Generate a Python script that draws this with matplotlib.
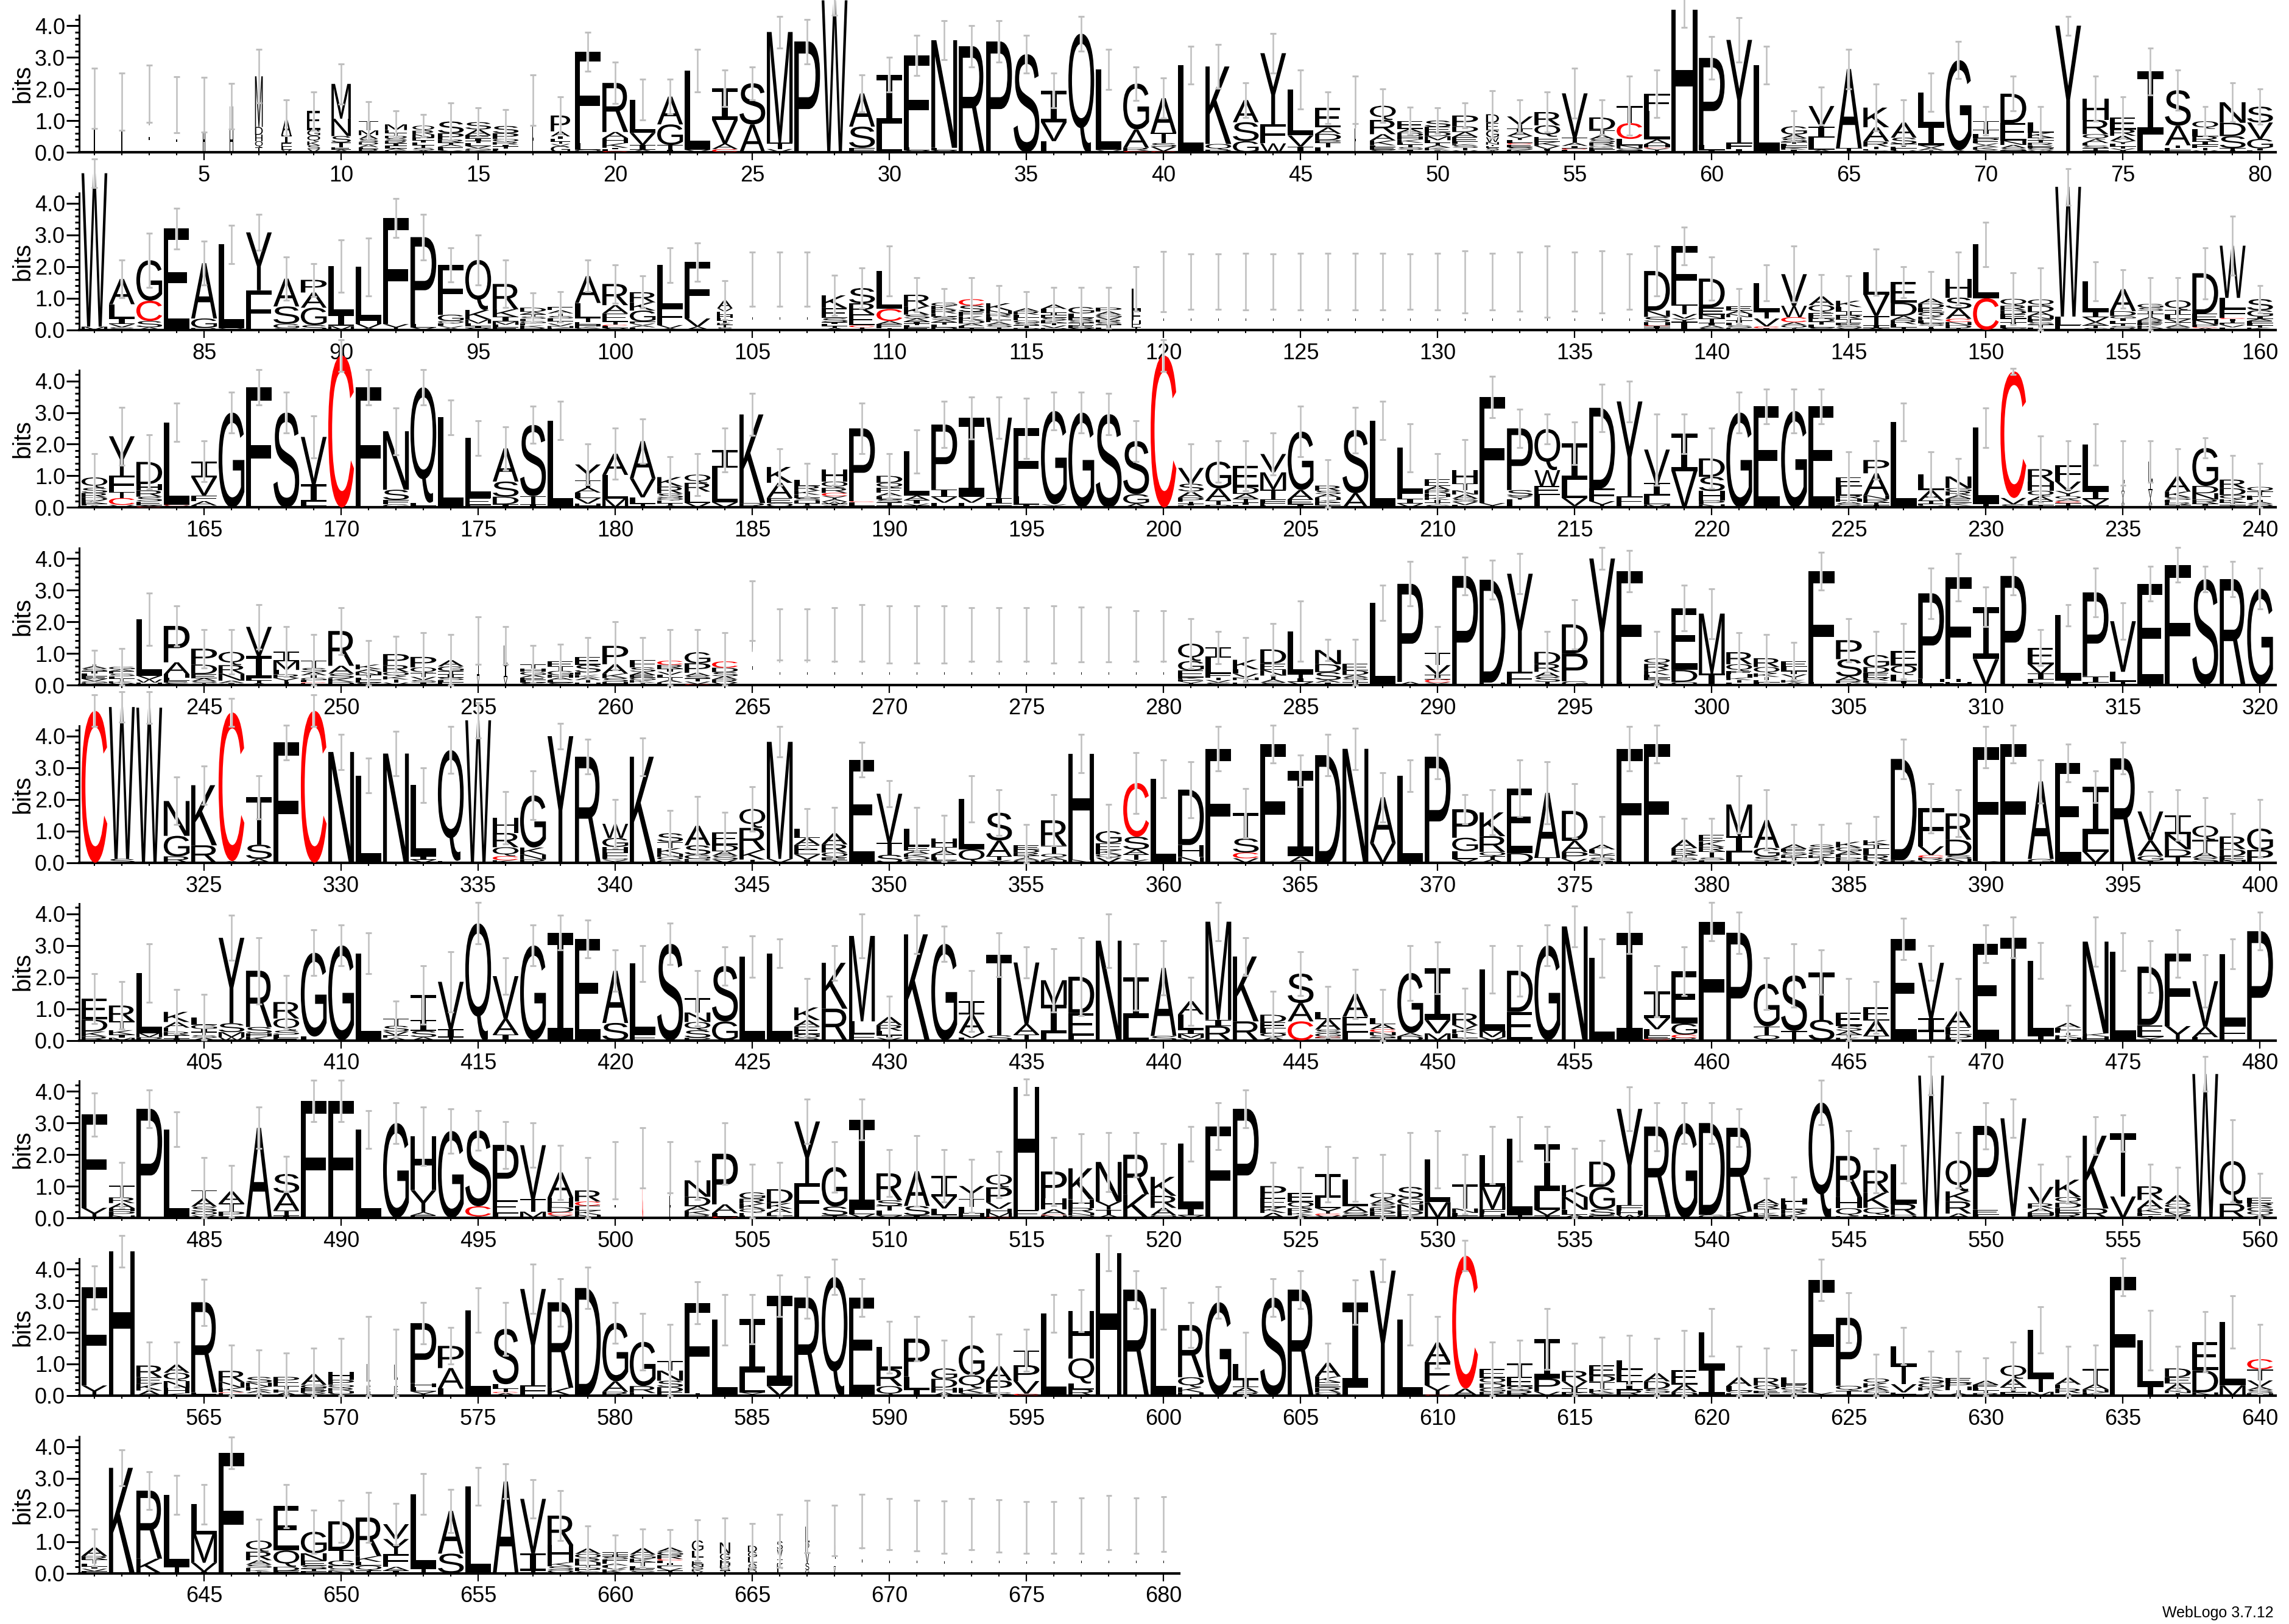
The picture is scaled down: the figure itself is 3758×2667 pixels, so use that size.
import matplotlib
matplotlib.use('Agg')
import matplotlib.pyplot as plt
from matplotlib.font_manager import FontProperties
from matplotlib.patches import PathPatch
from matplotlib.path import Path
from matplotlib.textpath import TextPath
from matplotlib.transforms import Affine2D

plt.rcParams['font.family'] = ['Liberation Sans', 'DejaVu Sans']

# stacks are written top letter first, heights in 1/100 bit
row1 = ["N90 H80", "N80 H80", "N100 H85", "N80 H70", "N80 H70", "N75 H70", "M160 D25 H20 Q20 T15", "A55 I25 E10 L10 V8", "E60 G18 Q18 K12 S12 V10", "M110 N55 S20 T15 E8 A8",
        "T30 M15 A12 S10 D8 A8 L6 R10", "M18 E10 T8 D8 S8 R8 I8 L8 A6 K6", "Q16 R12 N10 E8 I8 L8 T8 S8 A6", "S37 P20 R10 T6 A6 F6 L6 Y6", "S23 A18 E10 I8 T8 L8 V8 G6 K6", "S23 P18 Q10 R8 I6 T6 L6 E6", "N85 H80", "P50 A16 I8 L8 T8 V6 G20", "F290 L20 Q8", "R155 A20 H15 K15 I5 L5 C4",
        "L105 V38 I15 A8", "A88 G65 T15 I8", "L250 V8", "I100 V75 A17 C10", "S130 A88", "M350 T20 V10", "P350", "W480", "A105 S67 F14", "I155 L90",
        "F290 L10 V6", "N340 L8 V6", "R335", "P350", "S310", "I100 V60 L35", "Q375", "L255 V7", "G145 A58 R10 C4", "A110 T32 S12 V14 C3",
        "L275", "K245 Q18 P8", "A70 S60 G35", "Y225 F60 W28", "L145 V35 I18", "E62 A20 D20 P8 T15 L15", "N90 H75", "Q45 R45 A20 K15 L6 E8 S8", "E25 A12 D12 H10 K10 L6 T8 S8 I8", "S20 E16 D13 M13 L8 T8 A8 K8 I6",
        "P34 D18 A16 E16 L6 K4 S8 T8 V6", "D27 E24 G22 W15 N8 T5 L5 S8 A6", "V26 T12 I10 A14 Y12 L10 C5 E8 S8 K8", "R42 Q36 E16 K13 V10 I4 T6", "V140 T16 A10 I8 C4 L8", "D40 T16 A13 S10 R10 Q5 E8 L8", "T55 C50 L20 N10 S7 I5", "F55 L90 A15 H10 C3 Y8 T4", "H450", "P275 L16 I7",
        "Y325 F20 I10", "L275", "G26 A12 S12 T6 L6 E6 K6 I8", "V65 I35 L38 A8", "A250 T13", "K62 A45 R16 T8 E5 S5", "A48 S20 T8 E6 L6 V6", "L105 I62 V8 A8 T6", "G285 A6", "T28 I14 L13 P10 E6 V6 A6 K8 S8",
        "D93 E55 N14 A10 S8 T5", "L32 K16 I8 T8 R8 E8 Q8 V6", "Y400", "H67 R45 Q16 A12 E8 S8 T8 I5", "E38 R20 A16 Y10 L8 T6 V6 I6", "I200 L55", "S112 A62 T8 E8 F6", "Q24 L24 R16 I10 F10 T8 V6", "N65 D42 S38 T7 I6", "S50 V52 G30 I6 L6"]
row2 = ["W485 M10", "A80 L45 I18 V10 S8", "G128 C64 S20 A8", "E320", "A175 G30 R6", "L265 V5", "Y183 F125", "A88 S55 G14 S5", "P40 A48 G55 S15", "L155 I35 M12",
        "L170 H10 V14 A5", "F335 Y18", "P275 L10 V8", "F158 G20 Q8 L8 V6 A6", "Q158 K30 M13 L8 I6 V6", "R80 K24 I15 M10 L8 E8", "D13 A8 T7 S7 L7 G7 F7 K7 R7", "E10 A10 T8 S8 L8 I8 V8 N6 K6", "A85 L48 T12 E8 H6 K6 S5", "R67 A26 E26 T10 C4 L6 V6",
        "R32 K26 G35 F6 V6 A6 L8", "L135 F55 V10 A5", "F178 V26 A10", "A26 V10 E10 H10 L8 I8 K6 T8 S8", "N90 H70", "N90 H70", "N90 H70", "K40 E32 S13 I6 L6 T6 A6", "S48 R35 E35 C6 T4 A4", "L120 C38 A10 F12 T6",
        "R37 K26 S12 A10 I6 T6 L6 E8", "G10 K12 R12 E10 S10 A8 T8 L8 D8", "C20 S20 E14 K13 D10 A8 L6 T6", "K23 N11 R10 L8 E8 A8 S8 T8", "A10 R10 L10 E8 G8 S8 T8 D6", "A14 L12 I8 E8 S8 K8 T8 V8 D6", "G20 L14 R8 S8 T8 E8 V6", "P12 A10 G8 V8 R8 S8 T8 L8", "L70 F30 H12 E10 I8", "N90 H62",
        "N90 H62", "N90 H62", "N90 H62", "N90 H62", "N90 H62", "N90 H62", "N90 H62", "N90 H62", "N90 H62", "N90 H62",
        "N90 H62", "N90 H62", "N90 H62", "N90 H62", "N90 H62", "N90 H62", "N90 H62", "D125 N20 S16 H10 C3 I6 T6", "F185 T30 V14 Y10 I26", "D92 E22 N12 T14 I8 A8 S6",
        "E13 A11 N10 T10 I8 L8 S8 K6", "L90 T22 V25 C6 I5", "V100 W36 C16 A10 Q8 T6", "A28 Q24 E18 D10 T10 L8 S8", "K20 L14 I12 R12 T12 E8 S8 V6", "L70 V68 T30 I8 A6", "E65 D42 A13 R13 L10 T8", "A16 D14 E14 Q13 K11 L10 S8 T8 I5", "H60 S35 A32 C10 N10 D10 T5", "L170 C100",
        "Q22 R14 D13 E13 T12 I10 L8 S6", "Q20 D20 A12 N10 E10 S8 T8 L8", "W410 L28 E14", "L95 I18 V16 A10 T8 S6", "A70 D15 G8 I8 L8 T8 S6 R6", "G12 S10 I10 T10 A10 R8 E8 K8 D6", "Q30 I16 L13 V10 T8 A8 S8", "D128 E20 N14 P8 C3 A6", "W165 L35 F28 C4 I6 T6 E6 V8 L8", "S35 G20 I7 A7 E7 L7 T7 K7"]
row3 = ["Q33 S16 R14 D10 K10 F6 A6", "Y125 F52 T18 C22 V8", "D70 H20 R20 S15 E12 A4 C3", "L260 C3 V6", "I50 V58 F18 A14 L6", "G300", "F380", "S300", "V150 I55 L12 T6", "C480",
        "F380", "N185 S32 F14 G10", "Q365 L10 V5", "L285", "L190 E22 F8", "A105 S48 D24 I10", "S225 T26 I10", "L275", "Y50 T23 A16 L17 V18 H12", "A67 L75 M28",
        "A118 V60 L20 T12", "K30 R22 S14 Q8 E8 T8 A6", "Q26 R28 L35 V15", "I55 L110 V16", "K280 R14", "K50 A48 E16 Q14", "L18 R16 K13 E10 S8 H8 T8 A6", "H38 Q20 R16 C10 Y10 A8 W6 I6 S6", "P230 C3 L12 A5", "D22 Q16 E16 A10 L10 S10 T10 I6",
        "L140 A14 I11 V6 T6", "P205 I24 V18 L15", "I250 V18 L15", "V255 I16 L8 T5", "F215 L25 I5 V5", "G295 V5 A5", "G300", "S295", "S168 G30 A12", "C480",
        "V50 S24 A20 P13 T6 I6 L6", "G85 A38 T14 P8", "E66 D22 A16 T11 I8 L8", "V58 M55 T30 F12 E8 L6", "G185 A30 E15 I10", "R16 S11 A10 H8 K8 E8 T8", "S200 A45", "L275", "L145 F16 I16 V12", "E22 A13 R11 H11 K9 I8 T8 S8",
        "H42 T22 N13 A13 S10 V10 L8", "F335 Y14", "P195 S20 Y10 L25", "Q130 W50 E28 L40", "I115 L58 V25 E5", "D255 F40 Y20", "Y300 F30 L5", "V105 I40 L28 M10", "I118 V115", "D58 S45 H30 P12 N10",
        "G300", "E320", "G305", "E320", "E30 L28 R10 H10 A6 S6 K6", "P42 A70 N12 R10 T8 I8", "L270", "L50 A32 T10 E6 V6", "N37 G10 R13 A10 E14 K8 L6", "L240 I12",
        "C400 V20 S10", "R40 H28 Q18 A15 E12 T8", "F52 V30 Y16 Q10 A6 C6 T8 I6", "L148 I25 V20 T6", "L60 I30 V20 T10 A10 S10", "L60 I30 V25 T10 A10 S10", "A48 K18 S8 E8 R8 T8", "G120 D23 N20 R13 I6 A6", "R27 D22 Q13 K10 T8 I8", "Q15 T12 E7 L7 I6 A6 S6 V6"]
row4 = ["T6 A8 S8 I8 L8 E8 V8 G6 K6", "G8 A6 E8 S8 L8 T8 K6 V6", "L178 V12 W10 H8", "P115 A38 H10 L10 E6 S8", "P50 D30 E13 A10 S6 T6", "Q42 R27 N22 A8 I6", "V92 I70 L8 T8 A6", "I30 M28 L14 R12 Y12 T10", "T23 S13 A10 I8 G8 L6 C3 E6", "R110 A25 S14 K12 D10",
        "K15 A8 N10 T8 L8 E8 S8", "P35 R22 Q13 K10 T10 V8", "P33 Q18 T12 V10 S8 I8", "A20 G15 T10 I10 S8 L8 E8", "L70 I40 V30", "L60 I40 V25", "T14 H10 G10 A8 E8 L8 S8", "E16 T14 G13 H8 A8 L8 S8", "E25 S24 L8 K8 A8 T8 H8", "P58 A30 K14 S12 H10",
        "F24 S14 A10 E8 G8 K8 T8", "C13 R12 I10 V10 L8 T8 A8 E8", "G35 P30 A10 S8 T10 V8 C3", "C20 D14 S13 A10 R10 V8", "N130 H105", "N90 H70", "N90 H70", "N90 H70", "N95 H70", "N90 H70",
        "N90 H70", "N90 H70", "N90 H70", "N90 H70", "N90 H70", "N90 H70", "N90 H70", "N90 H70", "N85 H70", "N85 H70",
        "Q55 G30 E22 K6 F6 V6 T6", "I33 L50 F12 T8 V8 S8", "K30 L14 V12 N8 T8 E8", "D45 E20 N18 T12 A10 S8", "L135 T13 I12 V10", "N45 D25 S25 A8 I8", "E22 D14 A8 S8 I8 T8", "L260", "P310 A10", "T40 V30 I15 C10 Y8",
        "P345", "D325 H8", "Y310 F42", "D38 R25 A16 S16 T10", "D92 P88 G12", "Y400", "F350 L10", "Q17 R19 K16 L8 E8 T8 A8", "E195 D38 Q10", "M190 I36",
        "R38 Q22 E10 H10 K8 T8 L8", "R28 Q20 K11 T10 E8 L8", "E18 L14 I10 V10 T8 K8 A8", "F350 L10", "P60 S55 A13 R8 T6", "G38 D18 E15 R10 L6 S8", "E45 Q30 L20 I6 T6", "P270 H10 F10", "F320 T10 H10", "I165 V82",
        "P345", "E52 V30 I18 L12 T6", "L205 I16", "P265 I20 L8", "V160 L30 T12", "E320", "F380", "S335", "R335", "G305"]
row5 = ["C480", "W480 S12", "W490", "N110 G65 R20", "K190 R55", "C470 A5", "T150 S45 A12", "F380", "C480", "N350",
        "L275", "N345", "L225 I10 V10", "Q350 E6", "W450", "H48 R45 Q28 C13 K8", "G165 K22 N16 R10", "Y400", "R335", "W45 G28 H18 F18 Q6 Y8",
        "K335", "S27 T20 K18 N10 Q10 G8", "A62 S30 G13 D6 E6", "E40 D20 A14 S12 V10", "Q60 R70 K30 T10", "M370 V12", "L30 A22 E30 V16 I10", "A35 R26 Q16 E8 T8", "E325", "V155 T38 S25",
        "L55 E14 A10 K10 Q10 S8", "H28 T10 A13 E10 L8 S8", "L160 Q42", "S88 A50 T12 Y8", "E13 D10 R10 T6 A8 Q8", "R80 T26 Q12 A8 N8", "H335 N10", "G38 E22 K14 Q10 V16", "C170 S40 A16 T16 Y10", "L265",
        "D175 H38 N18", "F360", "T80 S45 C18 V14", "F375", "I270 A20", "D340", "N360", "A145 V62", "L275", "P335",
        "P90 G42 L25 V12", "K75 R50 Q14 T10 A10", "E205 D30", "A205 T16", "D95 A35 P22 V12", "A15 L12 V6 T8 S8 E8", "F355 L5", "F375", "A27 K10 R12 T8 S8 L8", "E20 K18 R14 T20 S8 L8",
        "M100 I52 L32", "A88 G28 S13 T6", "A14 E10 S10 K8 T8 L8", "S13 G10 Q10 K8 T8 A8", "K18 G12 A10 E10 P8 R8", "K14 I13 L20 R16 V8", "D320 R8", "F120 V28 C8 R8 V8", "R83 D50 S10 N13", "F360 Y5",
        "F375", "A245 G12", "E315", "I150 L55 V35", "R330", "V92 A48 G16 I6", "I60 N48 D22 T20", "Q45 T40 A16 S16", "R40 D22 E13 N8", "G68 P40"]
row6 = ["E65 D38 K16 R12", "R50 T28 K14 I10 M8", "L190 M13 P10", "K32 A18 E13 R11 T10 I6", "L24 G13 I10 T10 S8 A8", "Y270 S28 M16 W10", "R178 S20 H10 K12", "R52 Q38 S13 L10 E8", "G265 L12", "G300",
        "L275", "T22 S18 V12 E8 A8", "T78 I35 S20 A10", "V150 I25 T10", "Q370", "V135 A50 I18", "G300", "I340", "E320", "A165 S55",
        "L225 F18", "S305", "T45 N30 Q26 S24 P8", "S175 G60", "L265", "L275", "K40 A20 E25 Q13 R6", "K145 R100", "M270 L40 F20", "A26 R18 L14 I8 V8",
        "K335", "G305", "I42 A58 V16 L8", "T255 S16", "V195 A33 T18", "M78 I90 L22", "D115 E72 L14", "N315", "I130 L70", "A215 S14",
        "A42 L48 I14 M12 V8", "M310 I20 R45", "K205 R60", "D24 E20 L14 Q13 A10", "S93 A58 C60", "L22 A33 S12 G10 C4 T8", "A72 E50 L25", "L20 A16 C9 N10 S8 T8", "G190 A10 D13", "I165 V42 M22",
        "R37 V13 K14 L13 T8", "L195 M20 V10", "D130 E90", "G300", "N360", "L260", "I340", "I85 V35 L20 E10 C5", "E165 G35 C10 R8", "F375",
        "P340", "G135 T28 Q16", "S175 T30", "T150 S65", "E42 S16 A12 T10 K8", "E42 A48 T14", "E320", "V175 I40 T30", "A50 E24 D10 L8", "E305",
        "T325", "L238 I14", "A15 L8 E8 T8 K8 H8", "N290 K10 H12", "L280", "D185 E38 Y10", "F230 Y45", "V145 A32 L10", "L225 F48", "P345"]
row7 = ["F295 Y32", "T38 R18 A16 H10 P13 N8", "P345", "L280", "T25 A26 S16 Q12 V8", "A38 T26 P14 Q6", "A285", "S60 A55 T16 I8", "F370", "F370",
        "L280", "G300", "H170 Y70 A10 E8", "G275", "S240 C32 A5", "P175 E42 L14", "V170 T40 M20", "A80 H30 D16 C10 Y8", "R35 C13 E16 K13 N10", "N80 H70",
        "C190", "N90 H70", "N52 D30 A14 K13 R10", "P160 A28 L10 C5", "G20 R16 K16 Q13 E8 L8", "D44 K18 A13 E8 T8", "Y195 F110", "G125 S28 T8", "I285 L14 V12", "R85 S18 T14 L16 V8",
        "A110 S30 I8", "I65 V38 L20 T10", "Y40 T26 L22 H13", "Q40 P48 V20 H13 M13 C3", "H390 E25", "P85 H35 A16 C3 N8", "K98 H27 R16 N8 Q8", "N125 Y26 T16 A10", "R125 K75", "K60 R38 A24 Q8",
        "L205 I22 V8", "F290", "P345", "P37 E30 K18 A16", "E28 Q20 R13 K10 A8", "I75 L32 Y17 C6 V8", "L85 A18 S10 E8", "Q20 A14 S14 K10 P13 T8", "S35 G20 N20 D13 K10", "L135 M50",
        "T76 N14 L8 F8", "L100 M72 F13 H14", "L240 T10", "I148 L60 V18 T8", "K38 N40 L16 A10", "D80 G70 S20 E8", "Y305 F16 H14 W10", "R275 H14", "G300", "D290 G10",
        "R265 K20", "A17 R14 T13 K8 E8", "H20 L15 R14 K13", "Q365", "R130 H35 Q25 K6", "R70 K48 Q22 H10", "L125 R35 Q10", "W450", "Q98 K32 R38 A14", "P265 E16 L10",
        "V310 L5", "V52 R16 A12 H10 E8", "K55 Q18 D16 E16 R16", "K230 R30", "T200 V68", "R43 A28 K13 E10 T6", "A28 Q13 D13 V10 T8", "W455", "Q135 R45", "E17 R13 G13 Q13 A8"]
row8 = ["F310 Y32", "H455", "R37 E20 K22 A16", "A26 Q26 N22 H16 K8", "R285 F10", "R35 N18 K14 C3 E8", "S18 N13 K12 A8 T8", "P17 E12 T10 F10 A10", "A34 G10 E8 R8 S8", "H25 P16 Q10 R10 H6 S8",
        "L55 A16 E16 H12", "L45 I25 E16 K12", "P190 H13 L13 Y13", "P70 A65 L22", "L270", "S175 L14 T10 C4 A8", "Y305 F32", "R270 K25", "D340", "G185 A33 R12",
        "G140 R22 E8", "T30 N32 S20 D16 E11", "F285 T8", "L240", "I170 L62 Y10", "I285 V30", "R310", "Q375", "E310", "L68 R55 Q30",
        "P120 L40 I20", "G33 D28 H15 A10", "G95 Q40 K16 S8", "A45 P38 S10", "T47 P50 V40 C6", "L260", "H150 Q80 L18 R20", "H450", "R335", "L275",
        "R165 Q32 K16 H10", "G295", "L50 I24 A16 R10", "S310", "R335", "A44 K18 E16 R16 Q10", "I270 L25", "Y395", "L240", "A62 F73 Y30 C3",
        "C420 A22", "E28 Q18 D14 G12 R12", "T42 E30 Q13 R16", "I125 P42 V12", "R33 V22 I13 K10", "E33 D20 T22 K13 S8", "L28 F38 I28 R18", "A26 D24 S13 T8", "E45 A24 D11", "L110 I90",
        "A28 L14 Q8 E8", "R24 Q16 E8 T8", "L22 E10 Q10 S8 T8", "F355 Y10", "P215 Q15 T16", "Q15 K13 A10 G8 T8", "L60 T60 V26 F10", "S20 G13 K10 T8 A8", "E14 P13 H10 T10 A8", "A13 E10 L8 T8 R8",
        "Q42 A26 T16 F11", "L150 T45 M12", "A22 E13 R14 T8", "T48 A16 N10 K10", "F375", "L145 I30", "D28 E20 A22 N8 T8", "E90 D70 N10", "L200 M32", "C32 T35 V20 A10 S10 H8"]
row9 = ["A27 R11 T13 L8 I8 V8 F6", "K333", "R215 K46", "L228 T20", "L95 M90 V28 I5", "F380", "Q35 R27 A14 S10 E6 K6 T5", "E140 Q52 D12 F8", "G68 N24 E15 S10 T8 F6", "D90 T34 G16 E8 S8 N8",
        "R122 K18 L12 Q16 T8", "V47 Y48 F40 A12 I8", "L235 T15", "A135 S62", "L275", "A290", "V172 I55 T8", "R93 H55 K12 S12 Q10", "A17 Q15 R12 H8 T8 D6 E6 S6", "T8 I6 S8 F6 E8 A6 L6 V6 K12",
        "A20 G13 K11 T13 L6 E8 S8", "A13 G10 R13 C5 L8 I8 E8 V8 T8", "G33 L20 T13 E10 N8 S8 K6 V6", "N35 G20 E10 H8 R8 S8 T8", "D20 G16 L18 A9 S8 R8 Q8", "S27 V32 I13 K16 L14", "L50 P30 V35 S22 G10", "E30 G35 H25 L25 V20", "N90 H75", "N85 H70",
        "N80 H70", "N80 H65", "N85 H70", "N80 H70", "N80 H65", "N80 H65", "N80 H70", "N90 H70", "N80 H70", "N85 H70"]

tops1 = [2.65,2.5,2.75,2.38,2.37,2.17,3.25,1.65,1.9,2.8,
         1.6,1.3,1.2,1.55,1.4,1.35,2.45,1.75,3.8,2.85,
         2.3,2.3,3.25,2.6,2.7,4.3,4.2,5.27,2.45,3.0,
         3.7,4.15,4.0,4.15,3.7,2.5,4.3,3.25,2.7,2.35,
         3.35,3.4,2.2,3.75,2.6,1.9,2.4,2.0,1.43,1.4,
         1.55,1.95,1.65,1.9,2.65,1.65,2.4,2.6,5.05,3.65,
         4.25,3.35,1.3,2.05,3.25,2.15,1.65,2.5,3.5,1.45,
         2.4,1.45,4.3,2.4,1.75,3.3,2.6,1.45,2.2,2.0]
tops2 = [5.4,2.2,3.05,3.85,2.8,3.3,3.65,2.3,2.1,2.85,
         2.9,4.15,3.65,2.6,3.0,2.2,1.17,1.2,2.2,2.05,
         1.7,2.6,2.75,1.55,2.45,2.45,2.45,1.73,1.95,2.65,
         1.65,1.3,1.65,1.4,1.2,1.35,1.35,1.35,2.0,2.47,
         2.4,2.4,2.42,2.4,2.42,2.42,2.42,2.42,2.4,2.42,
         2.5,2.42,2.45,2.65,2.45,2.5,2.4,2.65,3.25,2.3,
         1.3,2.05,2.65,1.75,1.7,2.55,2.0,1.85,2.45,3.4,
         1.8,1.95,5.1,2.15,1.9,1.65,1.65,2.6,3.6,1.4]
tops3 = [1.7,3.17,2.3,3.3,2.1,3.65,4.36,3.65,2.9,5.3,
         4.36,3.15,4.36,3.4,2.75,2.55,3.2,3.35,2.0,2.5,
         2.8,1.6,1.7,2.5,3.6,1.85,1.4,1.7,3.3,1.7,
         2.45,3.35,3.5,3.5,3.45,3.65,3.65,3.6,2.75,5.3,
         2.0,2.1,2.1,2.35,3.2,1.5,3.17,3.35,2.65,1.7,
         2.15,4.15,3.1,2.95,2.7,3.9,4.0,2.95,2.95,2.5,
         3.65,3.75,3.75,3.75,1.75,2.1,3.3,1.75,1.55,3.15,
         4.4,2.25,2.1,2.65,2.1,2.1,1.85,2.2,1.65,1.4]
tops4 = [1.1,1.15,2.9,2.5,1.75,1.75,2.55,1.85,1.6,2.45,
         1.4,1.55,1.65,1.6,2.15,1.85,1.25,1.3,1.5,2.0,
         1.5,1.75,1.75,1.65,3.3,2.4,2.4,2.45,2.55,2.5,
         2.5,2.5,2.45,2.45,2.45,2.5,2.47,2.47,2.35,2.35,
         2.1,1.7,1.5,1.95,2.65,1.45,1.45,3.15,3.9,1.85,
         4.05,3.95,4.15,1.7,2.7,4.35,4.25,1.7,3.15,3.05,
         1.65,1.6,1.35,4.2,2.1,1.7,1.95,3.7,4.15,3.1,
         4.05,1.75,2.55,3.7,2.6,3.75,4.35,3.75,3.9,3.7]
tops5 = [5.3,5.4,5.4,2.7,3.05,5.2,2.75,4.35,5.3,4.05,
         3.3,4.15,3.0,4.3,5.05,2.25,2.9,4.4,3.9,2.0,
         3.95,1.65,2.1,1.6,2.4,4.3,1.7,1.75,3.8,2.6,
         1.75,1.5,2.75,2.3,1.2,2.15,4.05,1.85,3.48,3.25,
         3.2,4.3,2.35,4.35,3.4,4.05,4.25,2.85,3.25,4.05,
         2.15,2.3,3.25,3.2,2.5,1.45,4.3,4.35,1.4,1.4,
         2.75,2.3,1.2,1.2,1.25,1.45,3.9,2.5,2.3,4.3,
         4.35,3.25,3.75,2.9,3.8,2.25,2.3,2.05,1.55,2.0]
tops6 = [2.1,1.85,3.05,1.6,1.45,3.95,3.25,2.05,3.5,3.65,
         3.4,1.25,2.35,2.8,4.35,2.6,3.65,3.95,3.8,2.85,
         3.0,3.7,2.2,2.95,3.3,3.2,1.95,3.0,4.0,1.4,
         3.95,3.6,2.2,3.4,2.95,2.9,3.25,4.0,3.05,3.15,
         2.0,4.35,3.25,1.55,2.8,1.7,2.25,1.6,3.0,3.1,
         1.65,3.0,3.0,3.65,4.25,3.2,4.05,2.35,2.95,4.35,
         4.05,2.6,3.05,2.85,1.95,1.85,3.85,3.0,1.95,3.65,
         3.9,3.08,1.1,3.9,3.4,3.15,3.5,2.7,3.2,4.05]
tops7 = [3.95,1.75,4.05,3.35,1.9,1.65,3.5,1.95,4.35,4.35,
         3.4,3.65,3.5,3.45,3.4,3.05,3.0,2.3,1.9,2.4,
         2.85,2.4,1.8,3.0,1.7,1.75,3.75,2.4,3.75,2.15,
         2.6,2.15,1.85,2.1,4.4,2.55,2.65,2.7,2.7,2.35,
         2.9,3.65,4.05,1.75,1.6,2.25,1.9,2.0,2.7,2.75,
         2.0,2.9,3.2,2.9,2.2,2.45,4.15,3.65,3.65,3.65,
         3.45,1.25,1.3,4.35,2.75,2.2,2.3,5.1,2.7,3.65,
         3.75,1.7,1.95,3.2,3.25,1.7,1.6,5.1,3.1,1.4]
tops8 = [4.1,5.05,1.7,1.7,3.68,1.6,1.45,1.35,1.5,1.8,
         2.5,2.1,2.95,2.15,3.4,2.95,4.15,3.7,4.05,2.95,
         2.6,2.25,3.6,3.2,3.2,3.8,3.75,4.3,3.7,2.35,
         2.5,1.75,2.5,1.95,2.1,3.2,3.35,5.05,3.95,3.4,
         2.95,3.45,2.0,3.7,3.95,1.65,3.65,4.3,3.2,2.5,
         4.9,1.7,1.75,2.75,1.65,1.85,1.9,1.8,2.05,2.75,
         1.55,1.5,1.45,4.3,3.25,1.3,2.15,1.4,1.4,1.2,
         1.7,2.8,1.55,1.6,4.35,2.7,1.55,2.65,3.15,2.25]
tops9 = [1.4,3.9,3.2,3.1,2.8,4.3,1.7,2.8,2.0,2.3,
         2.55,2.2,3.15,2.65,3.35,3.45,2.95,2.6,1.5,1.2,
         1.4,1.37,1.68,1.75,1.57,1.85,2.3,2.15,2.5,2.35,
         2.3,2.28,2.35,2.33,2.27,2.27,2.38,2.45,2.38,2.42]

# positions with few sequences get thin stacks
thin_pos = [1,2,3,4,5,6,7,8,9,10,11,12,13,17,18,47,52,104,105,106,107,119,
            120,121,122,123,124,125,126,127,128,129,130,131,132,133,134,135,136,137,
            235,236,255,256,265,266,267,268,269,270,271,272,273,274,275,276,277,278,279,280,
            500,501,502,571,572,663,664,665,666,667,668,669,670,671,672,673,674,675,676,677,678,679,680]
thin_w = [.03,.03,.04,.04,.08,.12,.3,.4,.5,.75,.75,.85,.85,.03,.75,.04,.5,.6,.03,.03,.03,.35,
          .03,.03,.03,.03,.03,.03,.03,.03,.03,.03,.03,.03,.03,.03,.03,.03,.03,.03,
          .12,.15,.1,.15,.03,.03,.03,.03,.03,.03,.03,.03,.03,.03,.03,.03,.03,.03,.03,.03,
          .05,.04,.04,.15,.15,.45,.4,.35,.22,.15,.08,.03,.03,.03,.03,.03,.03,.03,.03,.03,.03,.03,.03]

rows = [row1, row2, row3, row4, row5, row6, row7, row8, row9]
tops = [tops1, tops2, tops3, tops4, tops5, tops6, tops7, tops8, tops9]
widths = dict(zip(thin_pos, thin_w))

W, H = 3758, 2667
fig = plt.figure(figsize=(W / 100, H / 100), dpi=100)

sans = FontProperties(family='Liberation Sans')
mono = FontProperties(family='Liberation Mono')  # I with bars
glyphs = {}


def glyph(letter):
    if letter not in glyphs:
        p = TextPath((0, 0), letter, size=1, prop=mono if letter == 'I' else sans)
        e = p.get_extents()
        m = Affine2D().translate(-e.x0, -e.y0).scale(1 / e.width, 1 / e.height)
        glyphs[letter] = Path(m.transform(p.vertices), p.codes)
    return glyphs[letter]


def draw_stack(ax, pos, stack, top):
    y = 0
    w = 0.94 * widths.get(pos, 1)
    for tok in reversed(stack.split()):
        h = int(tok[1:]) / 100
        t = Affine2D().scale(w, h).translate(pos - w / 2, y) + ax.transData
        ax.add_patch(PathPatch(glyph(tok[0]), transform=t, lw=0, clip_on=False, zorder=3,
                               fc='#ff0000' if tok[0] == 'C' else 'black'))
        y += h
    low = max(2 * y - top, 0)
    ax.plot([pos, pos], [low, top], color='white', lw=3.2, solid_capstyle='butt', clip_on=False, zorder=4)
    ax.plot([pos, pos], [low, top], color='#bfbfbf', lw=1.8, solid_capstyle='butt', clip_on=False, zorder=5)
    for v in (low, top):
        ax.plot([pos - 0.11, pos + 0.11], [v, v], color='#bfbfbf', lw=2.2, solid_capstyle='butt', clip_on=False, zorder=5)


for i, (stacks, tp) in enumerate(zip(rows, tops)):
    start = 80 * i + 1
    n = len(stacks)
    base = 250 + 291.7 * i
    width_px = 50 + 45 * (n - 1) + 0.5
    ax = fig.add_axes([130 / W, 1 - base / H, width_px / W, 225 / H])
    ax.set_xlim(start - 25 / 45, start + n - 1 + 25 / 45)
    ax.set_ylim(0, 4.33)
    for k in range(n):
        draw_stack(ax, start + k, stacks[k], tp[k])
    ax.spines['top'].set_visible(False)
    ax.spines['right'].set_visible(False)
    ax.spines['left'].set_linewidth(2.2)
    ax.spines['bottom'].set_linewidth(3)
    ax.set_xticks([p for p in range(start, start + n) if p % 5 == 0])
    ax.set_xticks(range(start, start + n), minor=True)
    ax.set_yticks([0, 1, 2, 3, 4])
    ax.set_yticklabels(['0.0', '1.0', '2.0', '3.0', '4.0'])
    ax.set_yticks([v / 5 for v in range(0, 22)], minor=True)
    ax.tick_params(axis='x', which='major', length=9, width=1.6, labelsize=26, pad=6)
    ax.tick_params(axis='x', which='minor', length=3.6, width=1.5)
    ax.tick_params(axis='y', which='major', length=15, width=2.2, labelsize=26, pad=1.5)
    ax.tick_params(axis='y', which='minor', length=5, width=2.2)
    ax.set_ylabel('bits', fontsize=29)
    ax.yaxis.set_label_coords(-74 / width_px, 0.5)
    ax.patch.set_visible(False)

fig.text(3733 / W, 1 - 2656 / H, 'WebLogo 3.7.12', ha='right', va='baseline', fontsize=18)
fig.savefig('out.png', dpi=100)
